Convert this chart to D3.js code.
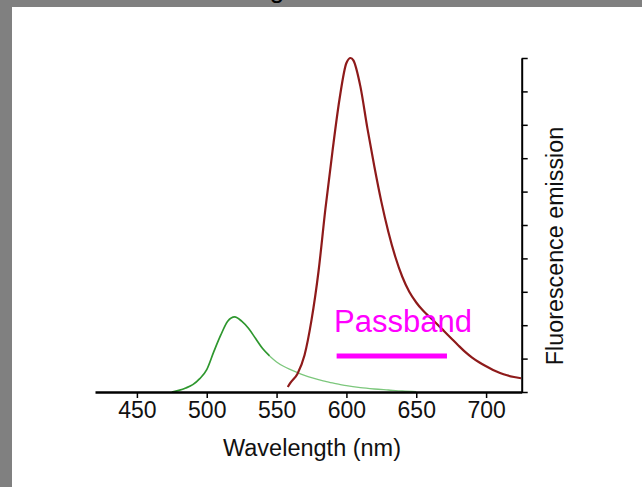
<!DOCTYPE html>
<html>
<head>
<meta charset="utf-8">
<script src="https://cdn.jsdelivr.net/npm/d3@7"></script>
<style>
  body { margin: 0; background: #808080; overflow: hidden; }
  svg { display: block; }
  text { font-family: "Liberation Sans", Arial, Helvetica, sans-serif; }
</style>
</head>
<body>
<div class="chart"></div>
<script>
// Wavelength (nm) samples and normalised emission for each dye.
var greenWavelength = [475, 480, 485, 490, 495, 500, 505, 510, 515, 520, 525, 530, 535, 540, 545, 550,
    555, 560, 565, 570, 575, 580, 585, 590, 595, 600, 610, 620, 630, 640, 650];
var greenEmission = [0, 0.005, 0.012, 0.022, 0.04, 0.067, 0.12, 0.17, 0.212, 0.225, 0.212, 0.19, 0.16, 0.13, 0.108, 0.09,
    0.077, 0.067, 0.058, 0.05, 0.043, 0.037, 0.032, 0.027, 0.023, 0.019, 0.013, 0.009, 0.006, 0.003, 0.001];

var redWavelength = [558, 560, 565, 570, 575, 580, 585, 590, 595, 600, 603, 605, 610, 615, 620, 625, 630, 635, 640,
    645, 650, 655, 660, 665, 670, 675, 680, 685, 690, 695, 700, 705, 710, 715, 720, 725];
var redEmission = [0.015, 0.028, 0.055, 0.11, 0.215, 0.36, 0.55, 0.72, 0.875, 0.985, 1.0, 0.993, 0.915, 0.79, 0.675, 0.57, 0.48, 0.405, 0.345,
    0.30, 0.268, 0.243, 0.223, 0.203, 0.182, 0.161, 0.14, 0.12, 0.103, 0.089, 0.077, 0.066, 0.057, 0.05, 0.045, 0.041];

// Filter passband (nm).
var passband = [593, 672];

// Tick values.
var xTicks = [450, 500, 550, 600, 650, 700];
var yTicks = [0, 0.1, 0.2, 0.3, 0.4, 0.5, 0.6, 0.7, 0.8, 0.9, 1.0];

var width = 642, height = 487;

var svg = d3.select(".chart").append("svg")
    .attr("width", width)
    .attr("height", height);

// White page inside the grey frame.
svg.append("rect")
    .attr("x", 12).attr("y", 7)
    .attr("width", width - 12).attr("height", height - 7)
    .attr("fill", "#fff");

// Bottom of a cut-off title letter, as in the source picture.
svg.append("text")
    .attr("x", 277).attr("y", -2.5)
    .attr("text-anchor", "middle")
    .attr("font-size", 26)
    .attr("fill", "#000")
    .text("g");

var x = d3.scaleLinear().domain([420, 725.5]).range([95, 521.7]);
var y = d3.scaleLinear().domain([0, 1]).range([392, 58]);

var line = d3.line()
    .x(function(d) { return x(d[0]); })
    .y(function(d) { return y(d[1]); })
    .curve(d3.curveMonotoneX);

var green = d3.zip(greenWavelength, greenEmission);
var red = d3.zip(redWavelength, redEmission);

//Green emission: solid near the peak, paler in the tail.
svg.append("path")
    .datum(green.filter(function(d) { return d[0] >= 545; }))
    .attr("d", line)
    .attr("fill", "none")
    .attr("stroke", "#7cc77c")
    .attr("stroke-width", 1.3);

svg.append("path")
    .datum(green.filter(function(d) { return d[0] <= 545; }))
    .attr("d", line)
    .attr("fill", "none")
    .attr("stroke", "#2e972e")
    .attr("stroke-width", 1.7);

//Red emission.
svg.append("path")
    .datum(red)
    .attr("d", line)
    .attr("fill", "none")
    .attr("stroke", "#8e1a1a")
    .attr("stroke-width", 2.2);

//Bottom axis.
var xAxis = svg.append("g")
    .attr("transform", "translate(0," + y(0) + ")")
    .call(d3.axisBottom(x).tickValues(xTicks).tickSize(6).tickSizeOuter(0).tickPadding(4));
xAxis.select(".domain").attr("stroke-width", 2.5);
xAxis.selectAll(".tick line").attr("stroke-width", 1.5);
xAxis.selectAll(".tick text")
    .attr("font-size", 23)
    .attr("font-family", "'Liberation Sans', Arial, sans-serif")
    .attr("fill", "#111");

//Right axis, no labels.
var yAxis = svg.append("g")
    .attr("transform", "translate(" + x(725.5) + ",0)")
    .call(d3.axisRight(y).tickValues(yTicks).tickSize(6).tickSizeOuter(0).tickFormat(""));
yAxis.select(".domain").attr("stroke-width", 2);
yAxis.selectAll(".tick line").attr("stroke-width", 1.5);

//Axis titles.
svg.append("text")
    .attr("x", 312).attr("y", 456)
    .attr("text-anchor", "middle")
    .attr("font-size", 23.5)
    .attr("fill", "#111")
    .text("Wavelength (nm)");

svg.append("text")
    .attr("transform", "translate(563,246) rotate(-90)")
    .attr("text-anchor", "middle")
    .attr("font-size", 23.3)
    .attr("fill", "#111")
    .text("Fluorescence emission");

//Passband marker.
svg.append("line")
    .attr("x1", x(passband[0])).attr("x2", x(passband[1]))
    .attr("y1", 356).attr("y2", 356)
    .attr("stroke", "#ff00ff")
    .attr("stroke-width", 5);

svg.append("text")
    .attr("x", 334).attr("y", 332)
    .attr("font-size", 31)
    .attr("fill", "#ff00ff")
    .text("Passband");
</script>
</body>
</html>
